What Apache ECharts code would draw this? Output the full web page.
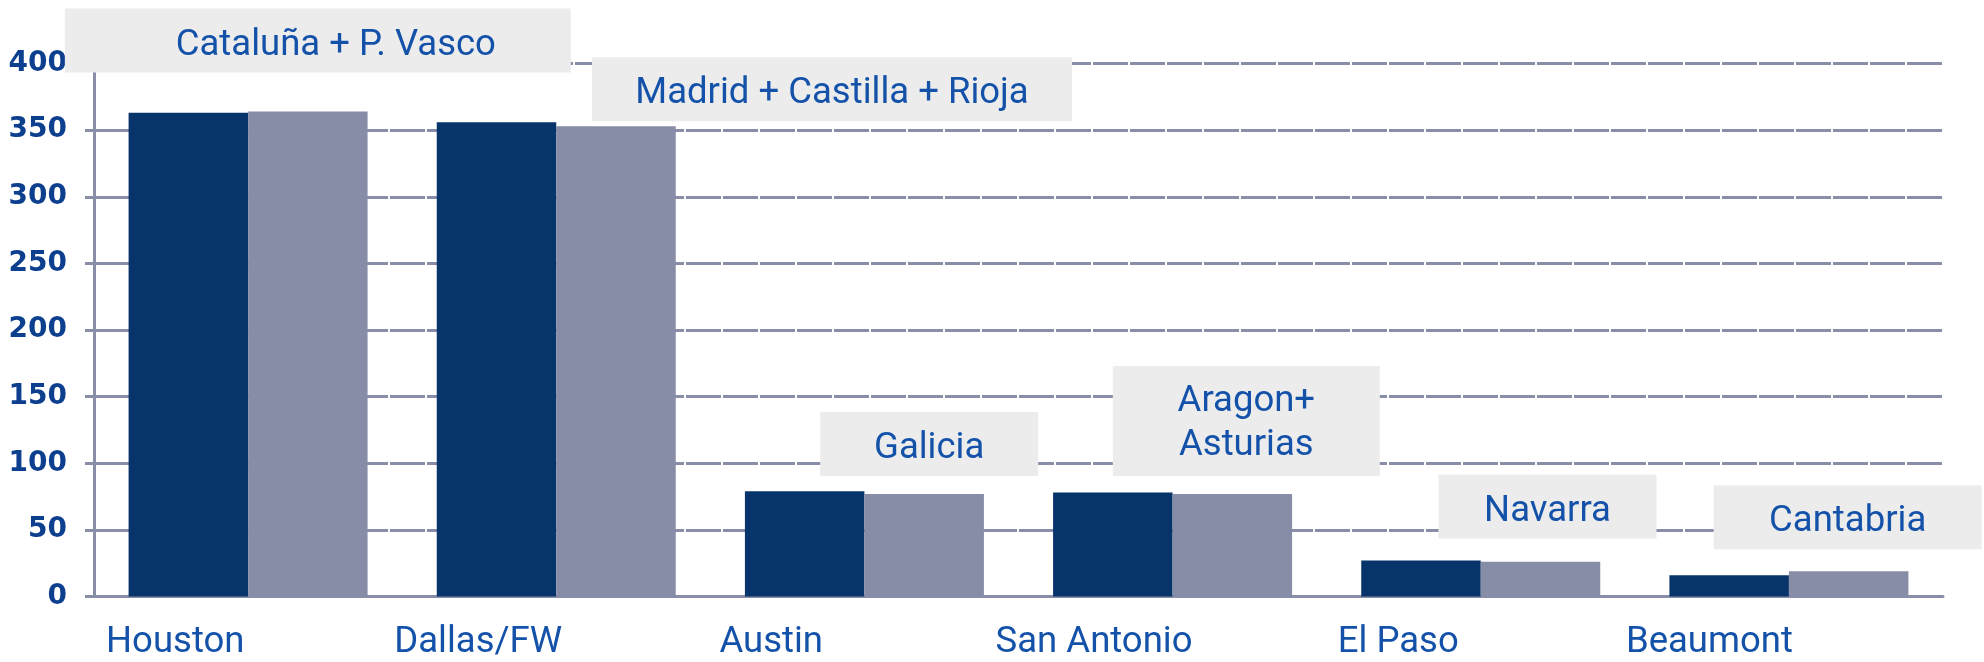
<!DOCTYPE html>
<html>
<head>
<meta charset="utf-8">
<script src="https://cdn.jsdelivr.net/npm/echarts@6/dist/echarts.min.js"></script>
<style>
  html, body { margin: 0; padding: 0; background: #fff; }
  #chart { width: 1984px; height: 662px; }
</style>
</head>
<body>
<div id="chart"></div>
<script>
const cities = ['Houston', 'Dallas/FW', 'Austin', 'San Antonio', 'El Paso', 'Beaumont']
const serieA = [363, 356, 79, 78, 27, 16]
const serieB = [364, 353, 77, 77, 26, 19]
const regiones = ['Cataluña + P. Vasco', 'Madrid + Castilla + Rioja', 'Galicia', 'Aragon+\nAsturias', 'Navarra', 'Cantabria']
const yTicks = { min: 0, max: 400, interval: 50 }

// label boxes: [dx, dy, width, lines, left pad]
const boxes = [
  [10, -39, 506, 1, 36],
  [216, -5, 480, 1, 0],
  [5, -18, 218, 1, 0],
  [14, -18, 267, 2, 0],
  [7, -23, 218, 1, 0],
  [-1, -22, 268, 1, 0]
]
// start of each x label, as width of a centred box
const labelW = [284, 324, 290, 354, 286, 326]

const blue = '#1452aa'
const grey = '#888ea8'

const rich = {}
labelW.forEach((w, i) => {
  rich['l' + i] = { width: w, align: 'left', fontSize: 36.5, lineHeight: 40, fontFamily: 'Roboto', color: blue }
})

const chart = echarts.init(document.getElementById('chart'))
chart.setOption({
  animation: false,
  grid: { left: 94, right: 41, top: 63.5, bottom: 65.5, containLabel: false, outerBoundsMode: 'none' },
  xAxis: {
    type: 'category',
    data: cities,
    axisLine: { lineStyle: { color: grey, width: 3 } },
    axisTick: { show: false },
    axisLabel: {
      margin: 26,
      formatter: (v, i) => `{l${i}|${v}}`,
      rich: rich
    }
  },
  yAxis: {
    type: 'value',
    min: yTicks.min,
    max: yTicks.max,
    interval: yTicks.interval,
    axisLine: { show: true, lineStyle: { color: grey, width: 3 } },
    axisTick: { show: true, inside: false, length: 9, lineStyle: { color: grey, width: 3 } },
    axisLabel: {
      margin: 27,
      color: '#0d3f8f',
      fontFamily: 'DejaVu Sans',
      fontWeight: 'bold',
      fontSize: 28
    },
    splitLine: { lineStyle: { color: grey, width: 3, type: [35, 2] } }
  },
  series: [
    {
      type: 'bar',
      data: serieA,
      barWidth: 119.5,
      barGap: '0%',
      itemStyle: { color: '#06346b' }
    },
    {
      type: 'bar',
      data: serieB.map((v, i) => {
        const b = boxes[i]
        const lh = b[3] > 1 ? 44 : 40
        const h = b[3] > 1 ? 110 : 64
        const p = (h - lh * b[3]) / 2
        const s = b[3] > 1 ? 3 : 5
        return {
          value: v,
          label: {
            show: true,
            position: 'top',
            distance: 0,
            offset: [b[0], b[1]],
            formatter: regiones[i],
            width: b[2] - b[4],
            lineHeight: lh,
            padding: [p + s, 0, p - s, b[4]],
            align: 'center',
            backgroundColor: '#ececec',
            color: blue,
            fontFamily: 'Roboto',
            fontSize: 36.5
          }
        }
      }),
      barWidth: 119.5,
      barGap: '0%',
      itemStyle: { color: '#878da6' }
    }
  ]
})
</script>
</body>
</html>
